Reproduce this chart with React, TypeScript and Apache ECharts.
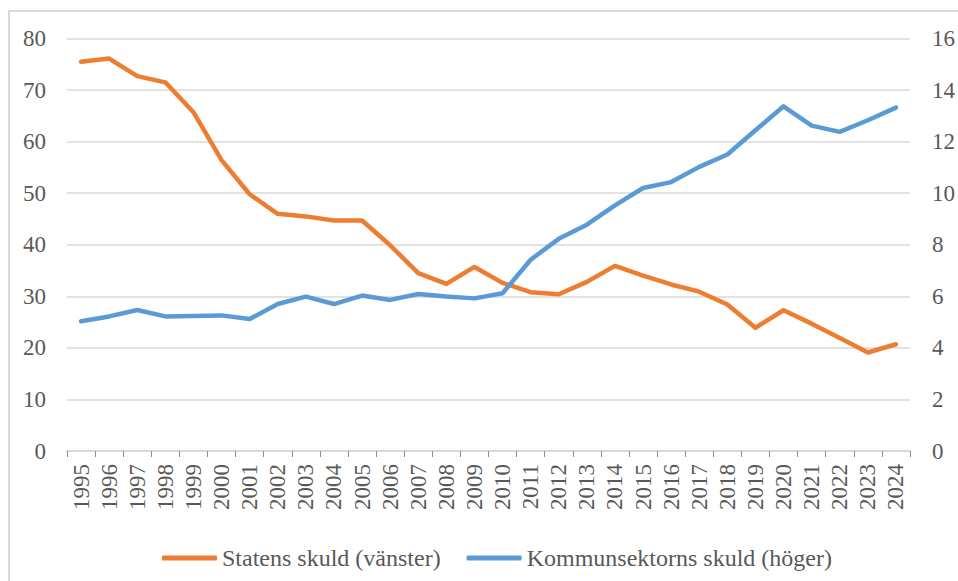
import React, { useEffect, useRef } from "react";
import * as echarts from "echarts";

const years: string[] = [
  "1995", "1996", "1997", "1998", "1999", "2000", "2001", "2002", "2003", "2004",
  "2005", "2006", "2007", "2008", "2009", "2010", "2011", "2012", "2013", "2014",
  "2015", "2016", "2017", "2018", "2019", "2020", "2021", "2022", "2023", "2024",
];

const statensSkuld: number[] = [
  75.5, 76.1, 72.7, 71.5, 65.7, 56.4, 49.8, 46.0, 45.5, 44.7,
  44.7, 39.9, 34.5, 32.4, 35.7, 32.6, 30.8, 30.4, 32.8, 35.9,
  34.0, 32.3, 30.9, 28.4, 23.9, 27.3, 24.7, 21.9, 19.1, 20.7,
];

const kommunSkuld: number[] = [
  5.03, 5.22, 5.47, 5.22, 5.24, 5.26, 5.12, 5.7, 5.99, 5.7,
  6.03, 5.86, 6.09, 5.99, 5.92, 6.12, 7.42, 8.23, 8.78, 9.53,
  10.2, 10.43, 11.02, 11.5, 12.44, 13.37, 12.62, 12.38, 12.83, 13.32,
];

const seriesNames: string[] = ["Statens skuld (vänster)", "Kommunsektorns skuld (höger)"];

const FONT = "'Liberation Serif', 'Times New Roman', 'DejaVu Serif', serif";
const TEXT = "#595959";
const GRID = "#d9d9d9";

export default function App() {
  const ref = useRef<HTMLDivElement>(null);
  useEffect(() => {
    if (!ref.current) return;
    const chart = echarts.init(ref.current, null, { renderer: "svg" });
    chart.setOption({
      animation: false,
      backgroundColor: "#ffffff",
      textStyle: { fontFamily: FONT },
      graphic: [
        {
          type: "rect",
          shape: { x: 9, y: 11, width: 1200, height: 1200 },
          style: { fill: "none", stroke: GRID, lineWidth: 2 },
          silent: true,
        },
      ],
      grid: { left: 67, right: 48, top: 38.5, bottom: 130 },
      legend: {
        left: 157,
        top: 541,
        icon: "roundRect",
        itemWidth: 55,
        itemHeight: 5,
        itemGap: 26,
        textStyle: { fontFamily: FONT, fontSize: 24, color: TEXT },
        data: seriesNames,
      },
      xAxis: {
        type: "category",
        data: years,
        boundaryGap: true,
        axisLine: { lineStyle: { color: GRID, width: 2 } },
        axisTick: { show: true, alignWithLabel: false, length: 6, lineStyle: { color: "#8c8c8c", width: 1 } },
        axisLabel: {
          rotate: 90,
          interval: 0,
          margin: 13,
          fontFamily: FONT,
          fontSize: 23,
          color: TEXT,
        },
      },
      yAxis: [
        {
          type: "value",
          min: 0,
          max: 80,
          interval: 10,
          axisLine: { show: false },
          axisTick: { show: false },
          splitLine: { lineStyle: { color: GRID, width: 1.5 } },
          axisLabel: { margin: 21, fontFamily: FONT, fontSize: 23, color: TEXT },
        },
        {
          type: "value",
          min: 0,
          max: 16,
          interval: 2,
          position: "right",
          axisLine: { show: false },
          axisTick: { show: false },
          splitLine: { show: false },
          axisLabel: { margin: 22, fontFamily: FONT, fontSize: 23, color: TEXT },
        },
      ],
      series: [
        {
          name: seriesNames[0],
          type: "line",
          yAxisIndex: 0,
          data: statensSkuld,
          symbol: "none",
          lineStyle: { color: "#ed7d31", width: 4.5, cap: "round", join: "round" },
          itemStyle: { color: "#ed7d31" },
        },
        {
          name: seriesNames[1],
          type: "line",
          yAxisIndex: 1,
          data: kommunSkuld,
          symbol: "none",
          lineStyle: { color: "#5b9bd5", width: 4.5, cap: "round", join: "round" },
          itemStyle: { color: "#5b9bd5" },
        },
      ],
    });
    return () => chart.dispose();
  }, []);
  return (
    <div
      ref={ref}
      style={{ position: "fixed", left: 0, top: 0, width: 958, height: 581 }}
    />
  );
}
